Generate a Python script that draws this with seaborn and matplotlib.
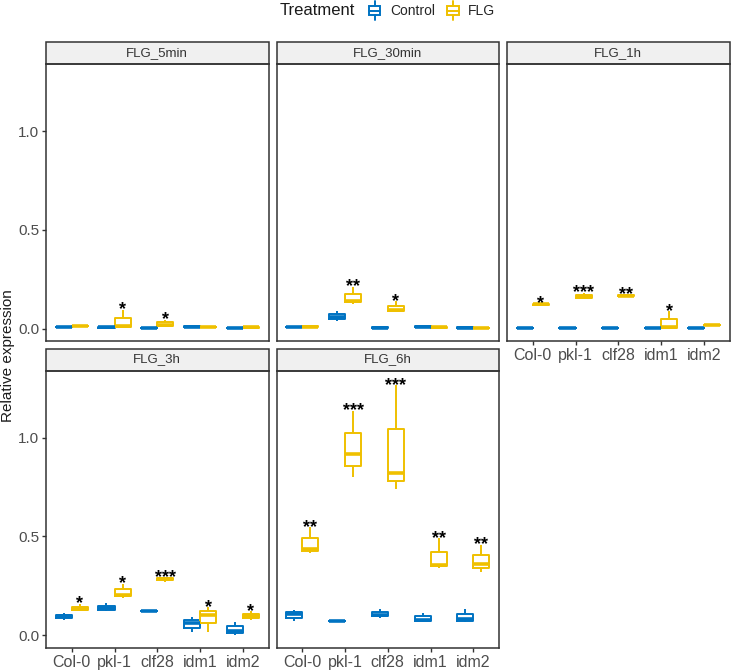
import matplotlib
matplotlib.use('Agg')
import matplotlib.pyplot as plt
from matplotlib.patches import Rectangle
from matplotlib.lines import Line2D
from matplotlib.legend_handler import HandlerBase
import numpy as np
import pandas as pd
import seaborn as sns


genotypes = ['Col-0', 'pkl-1', 'clf28', 'idm1', 'idm2']
times = ['FLG_5min', 'FLG_30min', 'FLG_1h', 'FLG_3h', 'FLG_6h']
treatments = ['Control', 'FLG']
colors = ['#0073C2', '#EFC000']

# three replicates per genotype, in genotype order
ctrl_5min = [[0.006, 0.008, 0.010], [0.004, 0.006, 0.008], [0.002, 0.004, 0.006], [0.008, 0.010, 0.012], [0.002, 0.004, 0.006]]
flg_5min = [[0.010, 0.012, 0.014], [0.003, 0.011, 0.095], [0.007, 0.019, 0.045], [0.005, 0.007, 0.009], [0.004, 0.006, 0.008]]
ctrl_30min = [[0.006, 0.008, 0.010], [0.036, 0.060, 0.090], [0.003, 0.005, 0.007], [0.008, 0.010, 0.012], [0.003, 0.005, 0.007]]
flg_30min = [[0.008, 0.010, 0.012], [0.124, 0.140, 0.210], [0.083, 0.093, 0.137], [0.004, 0.006, 0.008], [0.002, 0.004, 0.006]]
ctrl_1h = [[0.001, 0.003, 0.005], [0.001, 0.003, 0.005], [0.001, 0.003, 0.005], [0.001, 0.003, 0.005], [0.001, 0.003, 0.005]]
flg_1h = [[0.119, 0.123, 0.127], [0.150, 0.162, 0.182], [0.163, 0.167, 0.171], [0.001, 0.009, 0.087], [0.015, 0.017, 0.019]]
ctrl_3h = [[0.077, 0.095, 0.110], [0.120, 0.135, 0.160], [0.118, 0.121, 0.124], [0.013, 0.063, 0.090], [0.000, 0.020, 0.067]]
flg_3h = [[0.120, 0.130, 0.158], [0.190, 0.205, 0.260], [0.270, 0.283, 0.292], [0.018, 0.100, 0.140], [0.077, 0.095, 0.120]]
ctrl_6h = [[0.072, 0.105, 0.125], [0.069, 0.071, 0.073], [0.088, 0.100, 0.130], [0.065, 0.075, 0.113], [0.065, 0.080, 0.133]]
flg_6h = [[0.415, 0.435, 0.545], [0.800, 0.915, 1.135], [0.740, 0.820, 1.265], [0.340, 0.355, 0.490], [0.318, 0.360, 0.455]]

# significance of FLG vs Control
sig_5min = ['', '*', '*', '', '']
sig_30min = ['', '**', '*', '', '']
sig_1h = ['*', '***', '**', '*', '']
sig_3h = ['*', '*', '***', '*', '*']
sig_6h = ['**', '***', '***', '**', '**']

ctrl_all = [ctrl_5min, ctrl_30min, ctrl_1h, ctrl_3h, ctrl_6h]
flg_all = [flg_5min, flg_30min, flg_1h, flg_3h, flg_6h]
sig_all = [sig_5min, sig_30min, sig_1h, sig_3h, sig_6h]


class BoxKey(HandlerBase):
    # small boxplot glyph like ggplot's legend key
    def create_artists(self, legend, orig_handle, xdescent, ydescent, width, height, fontsize, trans):
        c = orig_handle.get_color()
        x0, y0 = -xdescent, -ydescent
        w, h = width, height
        lw = 1.4
        box = Rectangle((x0 + 0.1 * w, y0 + 0.25 * h), 0.8 * w, 0.5 * h, fc='none', ec=c, lw=lw, transform=trans)
        med = Line2D([x0 + 0.1 * w, x0 + 0.9 * w], [y0 + 0.5 * h] * 2, color=c, lw=lw, transform=trans)
        w1 = Line2D([x0 + 0.5 * w] * 2, [y0 - 0.05 * h, y0 + 0.25 * h], color=c, lw=lw, transform=trans)
        w2 = Line2D([x0 + 0.5 * w] * 2, [y0 + 0.75 * h, y0 + 1.05 * h], color=c, lw=lw, transform=trans)
        return [box, med, w1, w2]


def build_frame():
    rows = []
    for t, ctrl, flg in zip(times, ctrl_all, flg_all):
        for g, cv, fv in zip(genotypes, ctrl, flg):
            for v in cv:
                rows.append((t, g, 'Control', v))
            for v in fv:
                rows.append((t, g, 'FLG', v))
    return pd.DataFrame(rows, columns=['time', 'genotype', 'Treatment', 'value'])


def main():
    sns.set_style('white')
    plt.rcParams['font.family'] = ['Liberation Sans', 'DejaVu Sans']

    df = build_frame()

    fig, axes = plt.subplots(2, 3, figsize=(7.31, 6.70), dpi=100)
    fig.subplots_adjust(left=0.063, right=0.998, top=0.9045, bottom=0.033, wspace=0.036, hspace=0.105)
    axes = axes.flatten()
    axes[5].set_visible(False)

    for i, t in enumerate(times):
        ax = axes[i]
        sub = df[df.time == t]
        sns.boxplot(data=sub, x='genotype', y='value', hue='Treatment', order=genotypes,
                    hue_order=treatments, palette=colors, fill=False, width=0.75, gap=0,
                    linewidth=1.4, showcaps=False, legend=False, ax=ax,
                    medianprops={'linewidth': 2.6}, flierprops={'marker': ''})

        # asterisks above the FLG boxes
        for j, s in enumerate(sig_all[i]):
            if s:
                top = max(flg_all[i][j])
                ax.text(j + 0.1875, top - 0.022, s, ha='center', va='baseline',
                        fontsize=13, fontweight='bold', color='black')

        ax.set_xlim(-0.6, 4.6)
        ax.set_ylim(-0.065, 1.34)
        ax.set_yticks([0.0, 0.5, 1.0])
        ax.set_xlabel('')
        ax.set_ylabel('')
        for sp in ax.spines.values():
            sp.set_visible(True)
            sp.set_color('#333333')
            sp.set_linewidth(1.1)
        ax.tick_params(length=3, width=1, color='#333333', labelcolor='#4D4D4D', labelsize=11.5, pad=2)
        ax.tick_params(axis='y', labelsize=11)

        if i in (0, 1):
            ax.tick_params(axis='x', bottom=False, labelbottom=False)
        else:
            ax.tick_params(axis='x', bottom=True)
        if i in (0, 3):
            ax.tick_params(axis='y', left=True)
        else:
            ax.tick_params(axis='y', left=False, labelleft=False)

        # facet strip
        sh = 22 / ax.bbox.height
        ax.add_patch(Rectangle((0, 1), 1, sh, transform=ax.transAxes, clip_on=False,
                               fc='#F0F0F0', ec='#333333', lw=1.1))
        ax.text(0.5, 1 + sh / 2, t, transform=ax.transAxes, ha='center', va='center',
                fontsize=9.5, color='#333333')

    fig.text(0.011, 0.469, 'Relative expression', rotation=90, ha='center', va='center',
             fontsize=11, color='#1A1A1A')

    handles = [Line2D([], [], color=c) for c in colors]
    fig.text(0.486, 0.984, 'Treatment', ha='right', va='center', fontsize=12, color='#1A1A1A')
    fig.legend(handles, treatments, handler_map={Line2D: BoxKey()}, loc='center left',
               bbox_to_anchor=(0.503, 0.984), ncol=2, frameon=False, fontsize=10,
               handlelength=1.0, handleheight=1.5, handletextpad=0.6, columnspacing=0.8,
               borderpad=0, borderaxespad=0)

    plt.savefig('out.png', dpi=100)


if __name__ == "__main__":
    main()
